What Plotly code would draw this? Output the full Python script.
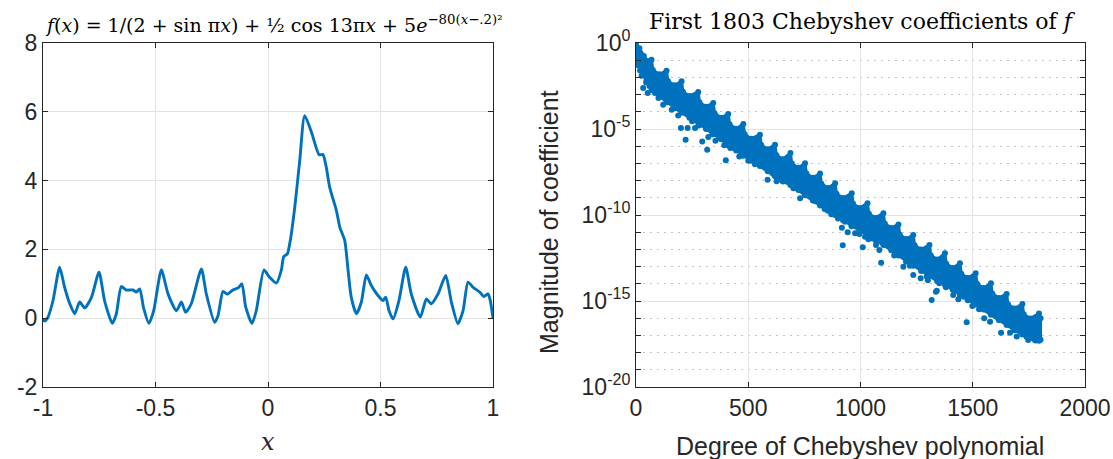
import plotly.graph_objects as go

# ---------------- left panel: f(x) samples ----------------
x_f = [-1.0, -0.993, -0.978, -0.956, -0.926, -0.904, -0.881, -0.859, -0.837, -0.815,
       -0.785, -0.751, -0.726, -0.692, -0.674, -0.652, -0.630, -0.600, -0.585, -0.570,
       -0.553, -0.529, -0.508, -0.474, -0.444, -0.407, -0.385, -0.366, -0.341, -0.296,
       -0.274, -0.237, -0.222, -0.200, -0.182, -0.156, -0.133, -0.116, -0.099, -0.071,
       -0.052, -0.018, 0.007, 0.037, 0.059, 0.070, 0.086, 0.099, 0.119, 0.141,
       0.163, 0.193, 0.227, 0.244, 0.259, 0.274, 0.304, 0.319, 0.341, 0.356,
       0.370, 0.393, 0.415, 0.437, 0.459, 0.489, 0.511, 0.523, 0.538, 0.556,
       0.582, 0.612, 0.637, 0.677, 0.704, 0.726, 0.756, 0.790, 0.815, 0.844,
       0.867, 0.889, 0.911, 0.941, 0.959, 0.978, 0.988, 1.0]
y_f = [-0.02, -0.08, 0.03, 0.50, 1.48, 0.90, 0.42, 0.13, 0.47, 0.30,
       0.60, 1.34, 0.50, -0.15, 0.13, 0.92, 0.82, 0.82, 0.76, 0.85,
       0.30, -0.15, 0.22, 1.40, 0.70, 0.22, 0.47, 0.17, 0.42, 1.43,
       0.70, -0.12, 0.08, 0.78, 0.70, 0.82, 0.88, 1.00, 0.32, -0.15,
       0.22, 1.40, 1.19, 1.02, 1.39, 1.79, 1.87, 2.26, 3.23, 4.58,
       5.89, 5.41, 4.75, 4.76, 4.39, 3.81, 3.13, 2.65, 2.26, 1.39,
       0.61, 0.13, 0.47, 1.26, 0.95, 0.66, 0.51, 0.61, 0.22, -0.02,
       0.51, 1.48, 0.70, 0.03, 0.56, 0.42, 0.71, 1.24, 0.47, -0.16,
       0.22, 1.05, 0.90, 0.76, 0.63, 0.71, 0.51, 0.00]

left_xticks = [-1, -0.5, 0, 0.5, 1]
left_xlabels = ["-1", "-0.5", "0", "0.5", "1"]
left_yticks = [-2, 0, 2, 4, 6, 8]
left_ylabels = ["-2", "0", "2", "4", "6", "8"]

# ---------------- right panel: Chebyshev coefficient magnitudes (log10) ----------------
# upper edge of the dense band (degree, log10 magnitude)
band_top_deg = [0, 15, 35, 50, 69, 75, 104, 136, 142, 171, 203, 209, 238, 277, 283, 312,
                344, 350, 379, 411, 417, 446, 478, 484, 513, 552, 558, 587, 619, 625, 654,
                688, 694, 723, 753, 759, 788, 820, 826, 855, 887, 893, 922, 961, 967, 996,
                1031, 1037, 1066, 1102, 1108, 1137, 1169, 1175, 1204, 1235, 1241, 1270,
                1307, 1313, 1342, 1376, 1382, 1411, 1443, 1449, 1478, 1513, 1519, 1548,
                1581, 1587, 1616, 1651, 1657, 1686, 1721, 1727, 1756, 1795, 1802]
band_top_log = [0.0, -0.30, -0.75, -1.05, -0.97, -1.57, -1.82, -1.61, -2.21, -2.46, -2.23, -2.83, -3.08,
                -2.85, -3.45, -3.70, -3.49, -4.09, -4.34, -4.13, -4.73, -4.98, -4.71, -5.31, -5.56,
                -5.33, -5.93, -6.18, -5.91, -6.51, -6.76, -6.40, -7.00, -7.25, -6.99, -7.59, -7.84,
                -7.58, -8.18, -8.43, -8.16, -8.76, -9.01, -8.74, -9.34, -9.59, -9.32, -9.92, -10.17,
                -9.90, -10.50, -10.75, -10.55, -11.15, -11.40, -11.16, -11.76, -12.01, -11.74,
                -12.34, -12.59, -12.23, -12.83, -13.08, -12.81, -13.41, -13.66, -13.39, -13.99,
                -14.24, -13.97, -14.57, -14.82, -14.59, -15.19, -15.44, -15.17, -15.77, -16.02,
                -15.72, -16.00]
# lower edge of the dense band
band_bot_deg = [0, 18, 47, 69, 104, 136, 171, 203, 238, 277, 312, 344, 379, 411, 446, 478, 513,
                552, 587, 619, 654, 688, 723, 753, 788, 820, 855, 887, 922, 961, 996, 1031, 1066,
                1102, 1137, 1169, 1204, 1235, 1270, 1307, 1342, 1376, 1411, 1443, 1478, 1513,
                1548, 1581, 1616, 1651, 1686, 1721, 1756, 1780, 1802]
band_bot_log = [-0.90, -1.60, -2.15, -2.75, -3.10, -3.40, -3.75, -4.05, -4.35, -4.65, -5.00, -5.30,
                -5.60, -5.95, -6.25, -6.55, -6.85, -7.15, -7.45, -7.75, -8.05, -8.25, -8.55, -8.85,
                -9.15, -9.45, -9.75, -10.00, -10.30, -10.60, -10.90, -11.15, -11.45, -11.75, -12.05,
                -12.35, -12.65, -12.95, -13.25, -13.55, -13.85, -14.05, -14.35, -14.65, -14.95,
                -15.20, -15.50, -15.80, -16.10, -16.40, -16.70, -16.95, -17.15, -17.30, -17.25]
# isolated coefficients below / at the lower edge of the band
out_deg = [10, 25, 32, 45, 52, 60, 85, 100, 121, 140, 159, 175, 188, 200, 221, 230, 250, 263, 280,
           295, 317, 322, 340, 354, 374, 393, 400, 420, 437, 460, 500, 530, 567, 586, 610, 626,
           645, 663, 693, 701, 715, 731, 760, 800, 840, 870, 900, 917, 921, 931, 943, 960, 976,
           995, 1010, 1020, 1035, 1050, 1069, 1069, 1084, 1092, 1110, 1150, 1191, 1203, 1220,
           1235, 1268, 1295, 1300, 1317, 1336, 1351, 1340, 1380, 1413, 1436, 1460, 1473, 1498,
           1528, 1551, 1562, 1577, 1592, 1610, 1626, 1636, 1666, 1688, 1696, 1710, 1725, 1740,
           1747, 1765, 1777, 1790, 1795]
out_log = [-1.30, -1.90, -2.62, -2.30, -2.91, -2.50, -2.90, -3.20, -3.59, -3.45, -3.88, -3.80,
           -4.21, -4.94, -5.62, -4.94, -4.55, -4.94, -4.80, -5.72, -6.20, -5.47, -5.30, -5.68,
           -5.52, -5.95, -6.82, -6.10, -6.10, -6.60, -6.85, -7.05, -7.17, -7.95, -7.60, -8.04,
           -7.95, -7.66, -8.24, -8.45, -8.40, -9.03, -8.85, -9.20, -9.65, -9.95, -10.20, -10.74,
           -11.76, -10.39, -11.01, -10.65, -11.06, -11.10, -11.88, -11.26, -11.41, -11.35, -11.41,
           -11.74, -12.03, -12.77, -11.65, -12.35, -13.01, -12.72, -12.95, -13.49, -13.68, -13.58,
           -13.79, -14.94, -14.46, -13.97, -14.40, -14.20, -14.65, -14.90, -14.75, -16.24, -15.29,
           -15.48, -16.01, -15.48, -16.20, -15.72, -15.95, -16.84, -16.10, -16.84, -16.59, -17.07,
           -16.70, -16.88, -17.10, -17.27, -17.15, -17.27, -17.00, -17.31]

right_xticks = [0, 500, 1000, 1500, 2000]
right_major_exp = [0, -5, -10, -15, -20]

BLUE = "#0072BD"
TXT = "#262626"
GRID = "#e3e3e3"
SANS = "Liberation Sans, Arial, sans-serif"
SERIF = "DejaVu Serif, Liberation Serif, serif"

fig = go.Figure()

fig.add_trace(go.Scatter(x=x_f, y=y_f, mode="lines", line=dict(color=BLUE, width=2.9, shape="spline", smoothing=0.6),
                         xaxis="x", yaxis="y", showlegend=False, hoverinfo="skip"))

poly_x = band_top_deg + band_bot_deg[::-1]
poly_y = [10 ** v for v in band_top_log + band_bot_log[::-1]]
fig.add_trace(go.Scatter(x=poly_x, y=poly_y, mode="lines", fill="toself", fillcolor=BLUE,
                         line=dict(color=BLUE, width=3), xaxis="x2", yaxis="y2", showlegend=False, hoverinfo="skip"))
fig.add_trace(go.Scatter(x=band_top_deg + band_bot_deg, y=[10 ** v for v in band_top_log + band_bot_log],
                         mode="markers", marker=dict(color=BLUE, size=6), xaxis="x2", yaxis="y2", showlegend=False))
fig.add_trace(go.Scatter(x=out_deg, y=[10 ** v for v in out_log], mode="markers",
                         marker=dict(color=BLUE, size=6), xaxis="x2", yaxis="y2", showlegend=False))

W, H = 1113, 459
def fx(px): return px / W
def fy(py): return 1 - py / H

axis_common = dict(showline=True, linecolor=TXT, linewidth=1, mirror="ticks", ticks="inside", ticklen=5,
                   tickcolor=TXT, tickfont=dict(family=SANS, size=23, color=TXT), showgrid=True,
                   gridcolor=GRID, gridwidth=1, zeroline=False, automargin=False)

minor_vals = [10.0 ** e for e in range(-19, 0) if e not in right_major_exp]

fig.update_layout(
    width=W, height=H, margin=dict(l=0, r=0, t=0, b=0), paper_bgcolor="white", plot_bgcolor="white",
    xaxis=dict(domain=[fx(43), fx(493)], range=[-1, 1], tickvals=left_xticks, ticktext=left_xlabels,
               anchor="y", **axis_common),
    yaxis=dict(domain=[fy(387), fy(43)], range=[-2, 8], tickvals=left_yticks, ticktext=left_ylabels,
               anchor="x", **axis_common),
    xaxis2=dict(domain=[fx(636), fx(1085)], range=[0, 2000], tickvals=right_xticks,
                ticktext=[str(v) for v in right_xticks], anchor="y2", **axis_common),
    yaxis2=dict(domain=[fy(387), fy(43)], type="log", range=[-20, 0],
                tickvals=[10.0 ** e for e in right_major_exp],
                ticktext=["10<sup>%d</sup>" % e for e in right_major_exp], anchor="x2",
                minor=dict(tickvals=minor_vals, ticks="inside", ticklen=5, tickcolor=TXT, showgrid=True,
                           gridcolor="#c4c4c4", griddash="2px,5px", gridwidth=1),
                **axis_common),
    annotations=[
        dict(text="<i>f</i>(<i>x</i>) = 1/(2 + sin π<i>x</i>) + ½ cos 13π<i>x</i> + 5<i>e</i><sup>−80(<i>x</i>−.2)²</sup>",
             x=fx(43), y=fy(24), xref="paper", yref="paper", xanchor="left", yanchor="middle", showarrow=False,
             font=dict(family=SERIF, size=19, color="black")),
        dict(text="First 1803 Chebyshev coefficients of <i>f</i>", x=fx(862), y=fy(22), xref="paper", yref="paper",
             xanchor="center", yanchor="middle", showarrow=False, font=dict(family=SERIF, size=22, color="black")),
        dict(text="<i>x</i>", x=fx(268), y=fy(442), xref="paper", yref="paper", xanchor="center", yanchor="middle",
             showarrow=False, font=dict(family=SERIF, size=24, color=TXT)),
        dict(text="Degree of Chebyshev polynomial", x=fx(860), y=fy(446), xref="paper", yref="paper",
             xanchor="center", yanchor="middle", showarrow=False, font=dict(family=SANS, size=25, color=TXT)),
        dict(text="Magnitude of coefficient", x=fx(549), y=fy(222), xref="paper", yref="paper",
             xanchor="center", yanchor="middle", textangle=-90, showarrow=False,
             font=dict(family=SANS, size=25, color=TXT)),
    ],
)

fig.write_html("out.html")
